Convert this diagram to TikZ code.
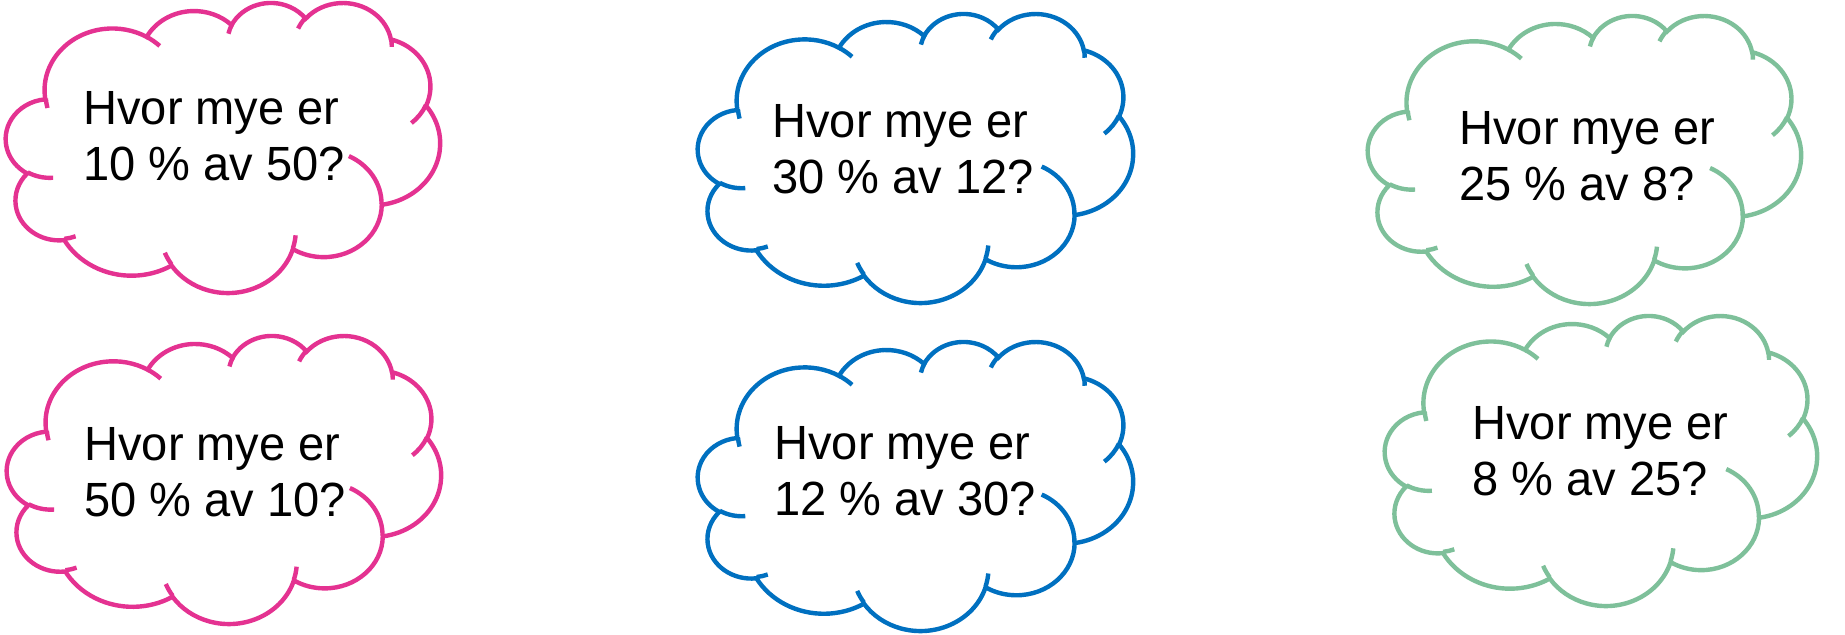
\documentclass[tikz,border=0pt]{standalone}
\usepackage{fontspec}
\setmainfont{Liberation Sans}[FakeStretch=0.98]
\definecolor{cpink}{RGB}{228,50,145}
\definecolor{cblue}{RGB}{0,112,192}
\definecolor{cgreen}{RGB}{126,192,154}

% convert an OOXML arcTo (visual angles, degrees) into a TikZ arc style
\newcommand\defooarc[5]{%
  \pgfmathsetmacro\ooS{atan2((#2)*sin(#4),(#3)*cos(#4))}%
  \pgfmathsetmacro\ooE{atan2((#2)*sin((#4)+(#5)),(#3)*cos((#4)+(#5)))}%
  \pgfmathsetmacro\ooD{\ooE-\ooS}%
  \pgfmathsetmacro\ooD{\ooD<0 ? \ooD+360 : \ooD}%
  \edef\ootmp{\noexpand\tikzset{#1/.style={start angle=\ooS, delta angle=\ooD, x radius=#2, y radius=#3}}}%
  \ootmp}

\defooarc{cma}{6.753}{9.190}{-190.4875}{123.7805}
\defooarc{cmb}{5.333}{7.267}{-144.1024}{89.9452}
\defooarc{cmc}{4.365}{5.945}{-145.8079}{99.7230}
\defooarc{cmd}{4.857}{6.595}{-130.9861}{117.2417}
\defooarc{cme}{5.333}{7.273}{-78.7089}{109.0269}
\defooarc{cmf}{6.775}{9.220}{-46.2673}{130.2690}
\defooarc{cmg}{5.785}{7.867}{0.6250}{114.0333}
\defooarc{cmh}{6.752}{9.215}{22.4516}{115.1726}
\defooarc{cmi}{7.720}{10.543}{66.2426}{75.7110}
\defooarc{cmj}{4.360}{5.918}{-274.9421}{146.7356}
\defooarc{cmk}{4.345}{5.945}{-246.8285}{152.5189}

\defooarc{cia}{4.345}{5.945}{86.7420}{26.4295}
\defooarc{cib}{4.360}{5.918}{73.6105}{11.4475}
\defooarc{cic}{6.752}{9.215}{137.6242}{14.0811}
\defooarc{cid}{6.752}{9.215}{6.4533}{15.9984}
\defooarc{cie}{5.785}{7.867}{-70.2924}{70.9174}
\defooarc{cif}{5.333}{7.273}{30.3180}{27.7515}
\defooarc{cig}{4.857}{6.595}{-13.7443}{14.8589}
\defooarc{cih}{4.857}{6.595}{-149.1815}{18.1954}
\defooarc{cii}{4.365}{5.945}{-163.4943}{17.6864}
\defooarc{cij}{6.753}{9.190}{-66.7070}{12.3194}
\defooarc{cik}{6.753}{9.190}{162.0359}{11.8549}

\tikzset{
  cloudline/.style={line width=2.2pt, fill=white},
  arcline/.style={line width=2.2pt},
  txt/.style={font=\fontsize{24pt}{28pt}\selectfont, anchor=base west, inner sep=0pt, text=black}
}

% #1 X, #2 Y (px, top-left), #3 W, #4 H (px), #5 colour
\newcommand\cloudshape[5]{%
  \pgfmathsetmacro\cux{(#3)/86.4}%
  \pgfmathsetmacro\cuy{(#4)/86.4}%
  \begin{scope}[shift={(#1,#2)}, x=\cux pt, y=-\cuy pt]
    \draw[cloudline, draw=#5] (3.900,14.370) arc[cma] arc[cmb] arc[cmc] arc[cmd]
      arc[cme] arc[cmf] arc[cmg] arc[cmh] arc[cmi] arc[cmj] arc[cmk] -- cycle;
    \draw[arcline, draw=#5]
      (4.693,26.177) arc[cia]
      (6.928,34.899) arc[cib]
      (16.478,39.090) arc[cic]
      (28.827,34.751) arc[cid]
      (34.129,22.954) arc[cie]
      (41.798,15.354) arc[cif]
      (38.324,5.426) arc[cig]
      (29.078,3.952) arc[cih]
      (22.141,4.720) arc[cii]
      (14.000,5.192) arc[cij]
      (4.127,15.789) arc[cik];
  \end{scope}}

\begin{document}
\begin{tikzpicture}[x=0.5pt, y=-0.5pt]
\useasboundingbox (0,0) rectangle (1845,634);

\cloudshape{6}{2}{434}{290}{cpink}
\cloudshape{698}{13}{435}{289}{cblue}
\cloudshape{1368}{15}{433}{288}{cgreen}
\cloudshape{7}{335}{434}{288}{cpink}
\cloudshape{698}{341}{435}{289}{cblue}
\cloudshape{1385}{315}{432}{290}{cgreen}

\node[txt] (p1a) at (83,124) {Hvor mye er};
\node[txt] (p1b) at (83,180) {10 \% av 50?};
\node[txt] (b1a) at (772,137.7) {Hvor mye er};
\node[txt] (b1b) at (772,193.3) {30 \% av 12?};
\node[txt] (g1a) at (1459,144) {Hvor mye er};
\node[txt] (g1b) at (1459,200) {25 \% av 8?};
\node[txt] (p2a) at (84,460.7) {Hvor mye er};
\node[txt] (p2b) at (84,516.7) {50 \% av 10?};
\node[txt] (b2a) at (774,459) {Hvor mye er};
\node[txt] (b2b) at (774,515) {12 \% av 30?};
\node[txt] (g2a) at (1472,439.3) {Hvor mye er};
\node[txt] (g2b) at (1472,495) {8 \% av 25?};
\end{tikzpicture}
\end{document}
